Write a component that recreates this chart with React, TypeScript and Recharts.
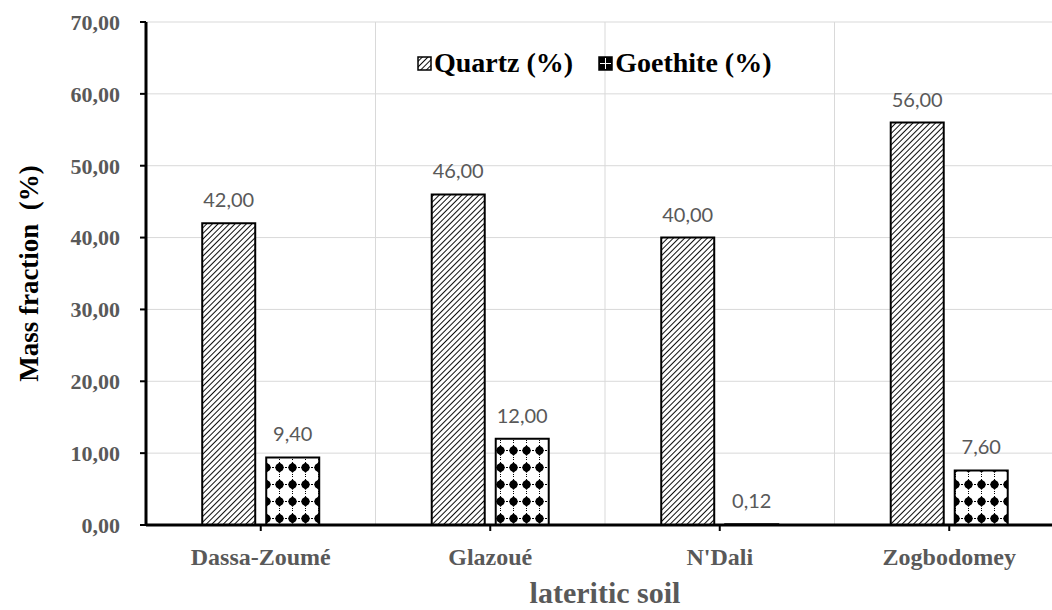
import React from 'react';
import { BarChart, Bar, XAxis, YAxis, CartesianGrid, LabelList } from 'recharts';

// Mineral composition of the lateritic soil samples
const sites = ['Dassa-Zoumé', 'Glazoué', "N'Dali", 'Zogbodomey'];
const quartz = [42.0, 46.0, 40.0, 56.0];
const goethite = [9.4, 12.0, 0.12, 7.6];
const yTicks = [0, 10, 20, 30, 40, 50, 60, 70];

const data = sites.map((site, i) => ({ site, quartz: quartz[i], goethite: goethite[i] }));

const serif = '"Liberation Serif", "Times New Roman", serif';
const labelGray = '#595959';
const sans = "Lato, 'Open Sans', sans-serif";

const fmt = (v: number) => v.toFixed(2).replace('.', ',');

// legend sits over the plot, near the top
const LegendBox = () => (
  <div
    style={{
      position: 'absolute',
      top: 46,
      left: 417,
      display: 'flex',
      alignItems: 'center',
      fontFamily: serif,
      fontWeight: 700,
      fontSize: 28,
      lineHeight: '34px',
      color: '#000',
      whiteSpace: 'nowrap',
    }}
  >
    <svg width={15} height={15} style={{ marginRight: 2 }}>
      <rect x={1} y={1} width={13} height={13} fill="url(#quartzHatch)" stroke="#000" strokeWidth={1.5} />
    </svg>
    <span style={{ marginRight: 25 }}>Quartz (%)</span>
    <svg width={15} height={15} style={{ marginRight: 2 }}>
      <rect x={1} y={1} width={13} height={13} fill="#000" stroke="#000" strokeWidth={1.5} />
      <line x1={7.5} y1={2} x2={7.5} y2={13} stroke="#fff" strokeWidth={1} />
      <line x1={2} y1={7.5} x2={13} y2={7.5} stroke="#fff" strokeWidth={1} />
    </svg>
    <span>Goethite (%)</span>
  </div>
);

export default function App() {
  return (
    <div style={{ position: 'absolute', left: 0, top: 0, width: 1052, height: 610, overflow: 'hidden', background: '#fff' }}>
      <BarChart
        width={1070}
        height={610}
        data={data}
        margin={{ top: 22, right: 6, left: 0, bottom: 0 }}
        barCategoryGap="24.5%"
        barGap={11}
      >
        <defs>
          <pattern id="quartzHatch" patternUnits="userSpaceOnUse" width={4} height={4} patternTransform="rotate(45)">
            <rect width={4} height={4} fill="#fff" />
            <line x1={0} y1={0} x2={0} y2={4} stroke="#000" strokeWidth={1.9} />
          </pattern>
          <pattern id="goethiteDots" patternUnits="userSpaceOnUse" width={13} height={17}>
            <rect width={13} height={17} fill="#fff" />
            <line x1={0} y1={8.5} x2={13} y2={8.5} stroke="#000" strokeWidth={1} strokeDasharray="1 2" />
            <line x1={6.5} y1={0} x2={6.5} y2={17} stroke="#000" strokeWidth={1} strokeDasharray="1 2" />
            <path d="M6.5 3 L11 8.5 L6.5 14 L2 8.5 Z" fill="#000" />
            <circle cx={6.5} cy={8.5} r={4} fill="#000" />
          </pattern>
        </defs>
        <CartesianGrid
          stroke="#d9d9d9"
          strokeWidth={1}
          verticalCoordinatesGenerator={({ offset }: any) => {
            const band = offset.width / sites.length;
            return sites.slice(1).map((_, i) => offset.left + band * (i + 1));
          }}
        />
        <XAxis
          dataKey="site"
          height={85}
          axisLine={{ stroke: '#000', strokeWidth: 3 }}
          tickLine={{ stroke: '#000', strokeWidth: 2 }}
          tickSize={6}
          tick={{ fill: labelGray, fontFamily: serif, fontWeight: 700, fontSize: 24 }}
          tickMargin={17}
          label={{
            value: 'lateritic soil',
            position: 'insideBottom',
            offset: 7,
            fill: labelGray,
            fontFamily: serif,
            fontWeight: 700,
            fontSize: 30,
          }}
        />
        <YAxis
          width={146}
          domain={[0, 70]}
          ticks={yTicks}
          interval={0}
          tickFormatter={fmt}
          axisLine={{ stroke: '#000', strokeWidth: 3 }}
          tickLine={{ stroke: '#000', strokeWidth: 2 }}
          tickSize={6}
          tickMargin={20}
          tick={{ fill: labelGray, fontFamily: serif, fontWeight: 700, fontSize: 22 }}
          label={{
            value: 'Mass fraction\u00A0\u00A0(%)',
            angle: -90,
            position: 'insideLeft',
            offset: 28,
            fill: '#000',
            fontFamily: serif,
            fontWeight: 700,
            fontSize: 27,
            style: { textAnchor: 'middle' },
          }}
        />
        <Bar dataKey="quartz" name="Quartz (%)" fill="url(#quartzHatch)" stroke="#000" strokeWidth={2} isAnimationActive={false}>
          <LabelList dataKey="quartz" position="top" offset={16} formatter={fmt} fill={labelGray} fontFamily={sans} fontSize={20} />
        </Bar>
        <Bar dataKey="goethite" name="Goethite (%)" fill="url(#goethiteDots)" stroke="#000" strokeWidth={2} isAnimationActive={false}>
          <LabelList dataKey="goethite" position="top" offset={16} formatter={fmt} fill={labelGray} fontFamily={sans} fontSize={20} />
        </Bar>
      </BarChart>
      <LegendBox />
    </div>
  );
}
